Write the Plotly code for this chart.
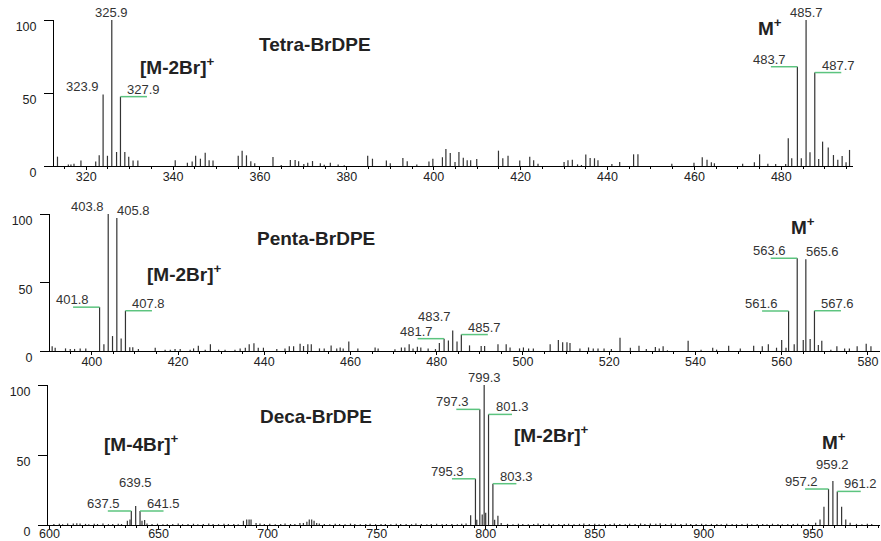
import plotly.graph_objects as go

W, H = 881, 541

# ---------------- DATA ----------------
# Tetra-BrDPE panel (m/z, relative intensity)
tetra_mz = [313.4, 315.9, 316.5, 317.2, 318.8, 322.2, 323.0, 323.9, 324.9, 325.9, 327.0, 327.9,
            328.9, 329.8, 330.8, 331.9, 340.5, 343.3, 344.4, 345.2, 346.3, 347.4, 348.3, 349.2,
            355.0, 355.9, 356.9, 357.9, 358.8, 363.0, 364.9, 367.0, 368.1, 368.9, 370.1, 371.0,
            372.1, 373.9, 374.8, 376.2, 378.0, 379.4, 384.8, 385.9, 389.1, 390.0, 392.9, 393.9,
            396.1, 398.9, 399.8, 402.0, 402.8, 403.8, 404.9, 405.8, 406.8, 407.7, 408.5, 409.9,
            414.9, 415.9, 417.1, 419.8, 422.1, 423.0, 424.0, 430.0, 430.9, 431.9, 433.1, 434.0,
            435.0, 436.0, 437.0, 437.8, 441.0, 442.8, 446.0, 447.0, 454.8, 459.9, 461.8, 462.9,
            463.9, 464.6, 471.1, 473.8, 475.0, 476.9, 478.7, 481.0, 481.6, 482.4, 483.7, 484.6,
            485.7, 486.6, 487.7, 488.6, 489.5, 490.8, 492.0, 493.0, 494.0, 494.9, 495.7]
tetra_int = [6.4, 1.0, 1.0, 1.5, 3.7, 3.0, 7.3, 49.0, 7.0, 100.0, 9.6, 47.5,
             9.6, 6.4, 3.7, 3.7, 3.9, 2.3, 3.0, 7.1, 5.0, 9.1, 3.9, 3.7,
             7.1, 10.5, 7.3, 3.2, 1.8, 6.2, 0.6, 4.1, 4.1, 3.2, 1.4, 2.3,
             3.4, 1.8, 0.9, 2.3, 1.1, 0.5, 7.1, 5.0, 3.7, 1.8, 5.5, 3.2,
             1.1, 3.0, 5.0, 6.0, 11.6, 8.9, 2.7, 9.6, 5.7, 3.9, 3.9, 4.8,
             10.5, 5.3, 7.1, 3.7, 6.4, 3.9, 1.6, 2.7, 3.9, 4.3, 1.1, 0.7,
             7.8, 5.5, 5.3, 4.0, 1.4, 2.7, 8.0, 8.0, 1.6, 2.3, 6.0, 4.3,
             2.5, 1.8, 1.6, 2.5, 8.0, 1.6, 1.4, 1.4, 19.0, 5.3, 68.0, 5.3,
             100.0, 9.4, 64.0, 4.8, 16.7, 12.6, 7.5, 4.3, 6.8, 2.5, 11.0]

# Penta-BrDPE panel
penta_mz = [390.8, 391.5, 393.9, 395.0, 396.0, 397.3, 398.6, 401.8, 402.8, 403.8, 404.8, 405.8,
            406.8, 407.8, 408.8, 409.5, 410.8, 414.7, 417.0, 418.2, 419.3, 420.5, 422.8, 423.6,
            424.7, 426.3, 427.5, 429.4, 430.9, 433.2, 434.4, 435.6, 436.5, 437.6, 438.6, 439.8,
            442.9, 444.8, 445.8, 446.8, 448.3, 449.1, 450.1, 450.9, 452.8, 453.9, 455.5, 456.8,
            457.6, 458.3, 459.6, 461.7, 465.7, 466.4, 470.3, 471.8, 472.6, 473.6, 474.5, 475.5,
            476.3, 478.0, 479.7, 480.6, 481.7, 482.7, 483.7, 484.7, 485.7, 487.6, 490.3, 491.1,
            494.2, 496.1, 497.0, 499.2, 500.1, 501.3, 502.4, 506.3, 508.2, 509.2, 510.2, 510.9,
            513.2, 515.2, 516.3, 517.4, 518.8, 520.5, 522.5, 524.9, 526.9, 528.6, 530.7, 531.6,
            532.5, 533.5, 538.3, 541.3, 544.0, 544.9, 547.7, 550.4, 553.5, 555.5, 556.9, 558.8,
            560.0, 561.0, 561.6, 562.9, 563.6, 565.0, 565.6, 566.6, 567.6, 568.5, 569.3, 571.4,
            572.8, 574.6, 575.7, 577.5, 579.6, 580.7]
penta_int = [3.4, 2.4, 1.9, 1.5, 1.5, 1.9, 1.9, 32.0, 4.9, 100.0, 10.9, 97.0,
             9.2, 29.4, 2.7, 2.7, 1.5, 2.4, 1.0, 1.0, 1.5, 1.5, 1.0, 1.9,
             3.9, 1.0, 4.9, 1.0, 1.0, 1.0, 1.9, 2.4, 4.9, 5.6, 2.4, 2.4,
             1.5, 1.9, 3.4, 3.4, 5.3, 3.6, 4.9, 4.9, 1.9, 1.9, 4.1, 1.9,
             2.6, 1.9, 7.0, 1.9, 2.6, 1.9, 1.2, 2.6, 2.6, 4.9, 1.9, 3.1,
             2.6, 1.9, 1.4, 5.8, 9.0, 7.6, 15.0, 7.0, 12.0, 4.1, 3.6, 3.6,
             4.9, 4.9, 2.6, 1.9, 2.6, 1.9, 1.9, 5.0, 8.0, 6.3, 6.3, 5.8,
             1.9, 2.6, 1.9, 1.9, 1.9, 1.5, 9.7, 2.4, 3.9, 1.5, 2.9, 1.9,
             3.4, 0.5, 7.5, 1.0, 2.4, 1.0, 3.9, 1.9, 3.9, 3.4, 4.9, 2.4,
             8.0, 2.4, 29.2, 4.9, 67.7, 8.0, 67.0, 8.8, 29.4, 4.4, 7.5, 1.0,
             3.4, 1.9, 1.9, 3.4, 5.3, 3.4]

# Deca-BrDPE panel
deca_mz = [602.0, 604.5, 606.0, 608.3, 610.9, 612.5, 614.0, 616.5, 618.0, 620.5, 622.0, 624.5,
           627.0, 629.0, 631.5, 633.0, 635.7, 636.9, 637.5, 639.5, 641.5, 642.4, 643.6, 644.7,
           647.0, 649.5, 652.0, 654.0, 656.5, 659.0, 661.0, 663.5, 666.0, 668.0, 670.5, 673.0,
           675.0, 677.5, 680.0, 682.0, 684.5, 686.5, 688.9, 690.4, 691.5, 692.4, 694.7, 696.5,
           698.5, 701.0, 703.5, 706.0, 708.0, 710.5, 712.5, 714.8, 716.4, 718.0, 719.1, 720.2,
           721.3, 722.5, 723.7, 726.0, 728.5, 731.0, 733.0, 735.5, 738.0, 740.0, 742.5, 745.0,
           747.0, 749.5, 752.0, 754.0, 756.5, 759.0, 761.0, 763.5, 766.0, 768.0, 770.5, 773.0,
           775.0, 777.5, 780.0, 782.0, 784.5, 787.0, 789.0, 791.0, 793.1, 795.3, 795.9, 797.3,
           798.4, 799.3, 800.0, 801.3, 803.3, 804.1, 805.6, 807.1, 810.0, 812.5, 815.0, 817.0,
           819.5, 822.0, 824.0, 826.5, 829.0, 831.0, 833.5, 836.0, 838.0, 840.5, 843.0, 845.0,
           847.5, 850.0, 852.0, 854.5, 857.0, 859.0, 861.5, 864.0, 866.0, 868.5, 871.0, 873.0,
           875.5, 878.0, 880.0, 882.5, 885.0, 887.0, 889.5, 892.0, 894.0, 896.5, 899.0, 901.0,
           903.5, 906.0, 908.0, 910.5, 913.0, 915.0, 917.5, 920.0, 922.0, 924.5, 927.0, 929.0,
           931.5, 934.0, 936.0, 938.5, 941.0, 943.0, 945.5, 948.0, 951.3, 953.3, 955.1, 957.2,
           959.2, 961.2, 963.2, 965.1, 967.1, 970.0, 972.5, 975.0, 977.0]
deca_int = [0.7, 0.9, 0.6, 1.0, 1.0, 1.3, 1.0, 0.8, 0.6, 0.9, 0.7, 1.0,
            0.6, 0.8, 0.9, 0.7, 3.0, 4.0, 10.0, 13.6, 10.0, 3.0, 3.5, 1.0,
            0.7, 0.9, 0.6, 0.8, 0.7, 1.0, 0.6, 0.8, 0.9, 0.6, 0.7, 1.0,
            0.8, 0.6, 0.9, 0.7, 0.8, 0.6, 3.0, 4.0, 4.0, 4.0, 1.5, 1.0,
            0.7, 0.9, 0.6, 0.8, 1.0, 0.7, 0.8, 1.5, 1.5, 2.4, 4.0, 4.0,
            3.0, 1.5, 1.0, 0.8, 0.6, 0.9, 0.7, 0.6, 1.0, 0.8, 0.6, 0.7,
            0.9, 0.6, 0.8, 0.7, 0.6, 0.9, 0.7, 0.8, 0.6, 1.0, 0.7, 0.6,
            0.8, 0.9, 0.6, 0.7, 0.8, 0.6, 0.9, 1.0, 7.0, 33.0, 3.8, 82.6,
            7.5, 100.0, 8.8, 79.0, 29.5, 3.8, 6.6, 1.5, 0.8, 0.6, 0.9, 0.7,
            0.6, 0.8, 1.0, 0.7, 0.9, 0.6, 0.8, 0.7, 0.9, 0.6, 0.8, 1.0,
            0.7, 0.9, 0.6, 0.8, 0.7, 1.0, 0.8, 0.6, 0.9, 0.7, 1.1, 0.8,
            1.0, 0.9, 1.2, 0.8, 1.0, 0.9, 0.7, 1.1, 0.8, 0.7, 0.9, 0.6,
            0.8, 0.7, 0.6, 0.9, 0.7, 0.6, 0.8, 0.9, 0.6, 0.7, 0.8, 0.6,
            0.9, 0.7, 0.6, 0.8, 0.7, 0.9, 0.6, 0.8, 1.6, 4.0, 13.0, 25.7,
            31.4, 24.0, 13.0, 4.0, 1.6, 0.8, 0.6, 0.9, 0.7]

# labelled peaks (m/z) and their label placement
tetra_labels = [323.9, 325.9, 327.9, 483.7, 485.7, 487.7]
tetra_sides = ['left', 'top', 'right_line', 'left_line', 'top', 'right_line']
penta_labels = [401.8, 403.8, 405.8, 407.8, 481.7, 483.7, 485.7, 561.6, 563.6, 565.6, 567.6]
penta_sides = ['left_line', 'left', 'right', 'right_line', 'left_line', 'left_high', 'right_line',
               'left_line', 'left_line', 'right', 'right_line']
deca_labels = [637.5, 639.5, 641.5, 795.3, 797.3, 799.3, 801.3, 803.3, 957.2, 959.2, 961.2]
deca_sides = ['left_line', 'top_high', 'right_line', 'left_line', 'left_line', 'top', 'right_line',
              'right_line', 'left_line', 'top_high2', 'right_line']

# ---------------- LAYOUT GEOMETRY (pixels) ----------------
FONT = 'Liberation Sans, Arial, sans-serif'
panels = [
    dict(mz=tetra_mz, it=tetra_int, labels=tetra_labels, sides=tetra_sides,
         x0=54, x1=853, ytop=20, ybot=166, xr=[312.6, 496.5], tick0=320, dtick=20, so=-4),
    dict(mz=penta_mz, it=penta_int, labels=penta_labels, sides=penta_sides,
         x0=50, x1=880, ytop=214, ybot=351, xr=[390.3, 582.8], tick0=400, dtick=20, so=-4),
    dict(mz=deca_mz, it=deca_int, labels=deca_labels, sides=deca_sides,
         x0=48, x1=880, ytop=385, ybot=525, xr=[599.3, 980.8], tick0=600, dtick=50, so=-6),
]

fig = go.Figure()
layout = dict(width=W, height=H, margin=dict(l=0, r=0, t=0, b=0),
              paper_bgcolor='white', plot_bgcolor='white', showlegend=False,
              font=dict(family=FONT, size=13, color='#333'))
annotations = []
shapes = []
GREEN = '#5cc47f'

side_style = {
    'top': ('center', 0, -2),
    'top_high': ('center', 0, 14),
    'top_high2': ('center', 0, 7),
    'left': ('right', -2, -2),
    'left_high': ('right', 0, 4),
    'right': ('left', -2, -2),
    'left_line': ('right', -9, -2),
    'right_line': ('left', 5, -2),
}

for i, p in enumerate(panels, start=1):
    sfx = '' if i == 1 else str(i)
    xa, ya = 'x' + sfx, 'y' + sfx
    xs, ys = [], []
    for m, h in zip(p['mz'], p['it']):
        xs += [m, m, None]
        ys += [0, h, None]
    fig.add_trace(go.Scatter(x=xs, y=ys, mode='lines', xaxis=xa, yaxis=ya,
                             line=dict(color='#333', width=1.2), hoverinfo='skip'))
    layout['xaxis' + sfx] = dict(
        domain=[p['x0'] / W, p['x1'] / W], anchor=ya, range=p['xr'],
        tick0=p['tick0'], dtick=p['dtick'], ticks='outside', ticklen=3, tickcolor='black',
        minor=dict(dtick=5, ticks='outside', ticklen=2, tickcolor='black'),
        showline=True, linecolor='black', linewidth=1, showgrid=False, zeroline=False,
        tickfont=dict(size=12.5, color='#222'), automargin=False, ticklabelstandoff=p['so'])
    layout['yaxis' + sfx] = dict(
        domain=[1 - p['ybot'] / H, 1 - p['ytop'] / H], anchor=xa, range=[0, 100],
        tickvals=[0, 50, 100], ticks='outside', ticklen=9, tickcolor='black',
        showline=True, linecolor='black', linewidth=1, showgrid=False, zeroline=False,
        tickfont=dict(size=12.5, color='#222'), automargin=False, ticklabelstandoff=5,
        ticklabelshift=7)
    # green line length: ~26 px (top/middle), ~23.5 px (bottom)
    ppu = (p['x1'] - p['x0']) / (p['xr'][1] - p['xr'][0])
    L = (26.5 if i < 3 else 23.5) / ppu
    for m, side in zip(p['labels'], p['sides']):
        h = p['it'][p['mz'].index(m)]
        xanchor, xshift, yshift = side_style[side]
        if side == 'left_line':
            shapes.append(dict(type='line', xref=xa, yref=ya, x0=m - L, x1=m, y0=h, y1=h,
                               line=dict(color=GREEN, width=1.5)))
        if side == 'right_line':
            shapes.append(dict(type='line', xref=xa, yref=ya, x0=m, x1=m + L, y0=h, y1=h,
                               line=dict(color=GREEN, width=1.5)))
        annotations.append(dict(x=m, y=h, xref=xa, yref=ya, text=f'{m:.1f}', showarrow=False,
                                xanchor=xanchor, yanchor='bottom', xshift=xshift, yshift=yshift,
                                font=dict(size=13, color='#333', family=FONT)))

# bold annotations (pixel centres)
bold = [
    ('Tetra-BrDPE', 315, 44, 19),
    ('[M-2Br]<sup>+</sup>', 177, 66, 19),
    ('M<sup>+</sup>', 770, 27, 19),
    ('Penta-BrDPE', 316, 238, 19),
    ('[M-2Br]<sup>+</sup>', 184, 273, 19),
    ('M<sup>+</sup>', 803, 226, 19),
    ('Deca-BrDPE', 316, 416, 19),
    ('[M-4Br]<sup>+</sup>', 141, 443, 19),
    ('[M-2Br]<sup>+</sup>', 551, 434, 19),
    ('M<sup>+</sup>', 834, 441, 19),
]
for txt, px, py, fs in bold:
    annotations.append(dict(x=px / W, y=1 - py / H, xref='paper', yref='paper', text=txt,
                            showarrow=False, xanchor='center', yanchor='middle',
                            font=dict(size=fs, color='#222', family=FONT, weight='bold')))

layout['annotations'] = annotations
layout['shapes'] = shapes
fig.update_layout(**layout)
fig.write_html('out.html', config={'displayModeBar': False},
               post_script="document.body.style.margin='0';")
